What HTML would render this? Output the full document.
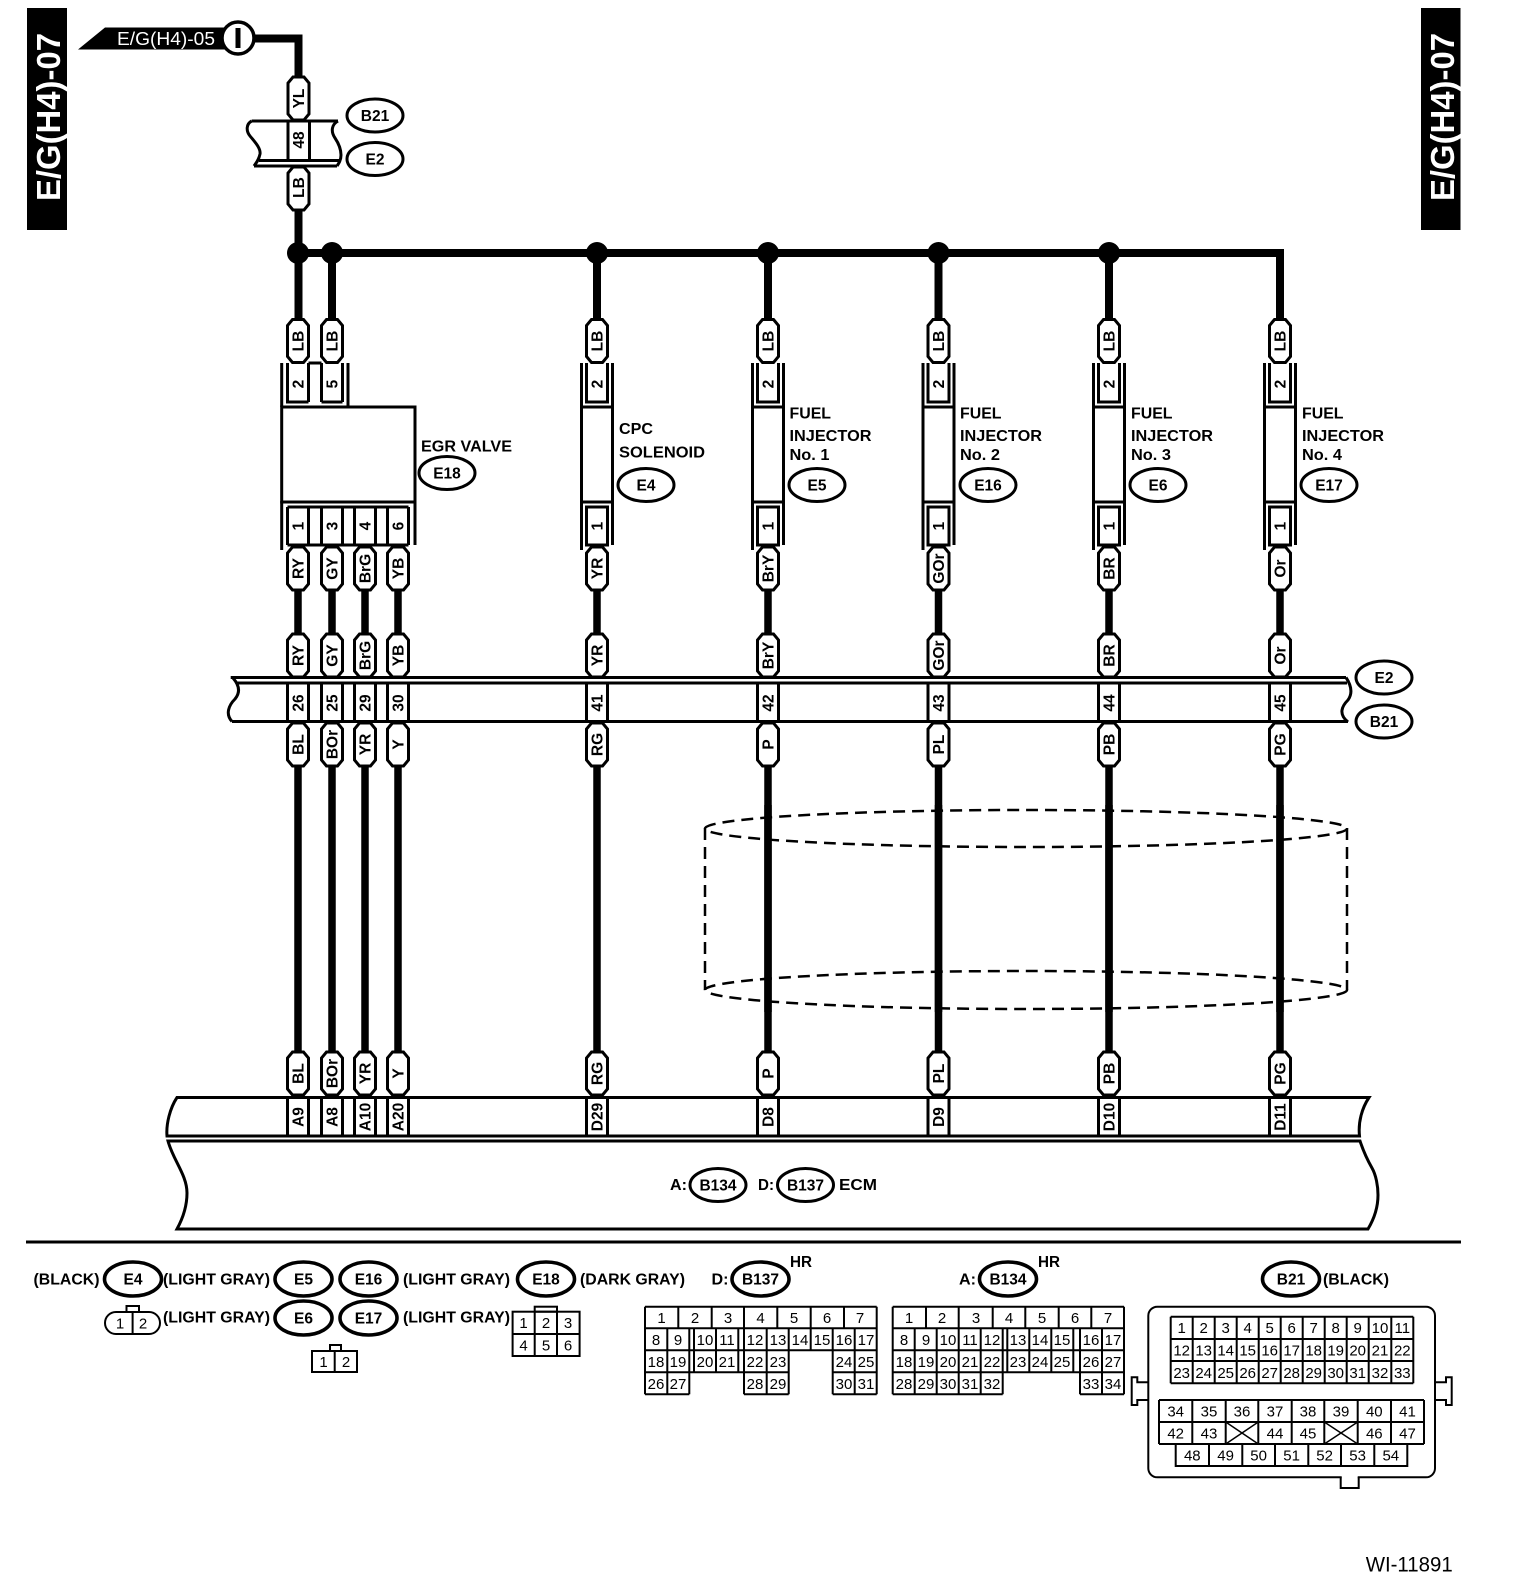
<!DOCTYPE html>
<html><head><meta charset="utf-8"><style>
html,body{margin:0;padding:0;background:#fff}
svg{display:block}
text{font-family:"Liberation Sans",sans-serif;fill:#000}
.b{font-weight:700;font-size:15.5px}
.m{text-anchor:middle}
.n{font-size:15px;text-anchor:middle}
.r{font-weight:700;font-size:15.5px;text-anchor:middle}
.w{fill:#fff}
.s{fill:#fff;stroke:#000;stroke-width:3}
.l{fill:none;stroke:#000;stroke-width:3}
.t{fill:none;stroke:#000;stroke-width:2}
</style></head><body>
<svg xmlns="http://www.w3.org/2000/svg" width="1520" height="1590" viewBox="0 0 1520 1590">
<defs>
<path id="p" class="s" d="M-5.500 0H5.500L10.500 6V37L5.500 43H-5.500L-10.500 37V6Z"/>
<ellipse id="e" class="s" rx="28" ry="16.5"/>
<ellipse id="f" class="s" rx="28.5" ry="17" style="stroke-width:3.6"/>
<g id="c"><path class="l" d="M-15.500 363V407M15.500 363V407M-10.500 363V402H10.500V363"/><rect class="l" x="-15.500" y="407" width="31" height="95"/><path class="l" d="M-15.500 501V550M15.500 501V545"/><rect class="l" x="-10.500" y="507" width="21" height="38"/></g>
</defs>

<rect x="27" y="8" width="40" height="222"/>
<text class="w" transform="translate(60,201) rotate(-90)" font-size="33" font-weight="700" textLength="168" lengthAdjust="spacingAndGlyphs">E/G(H4)-07</text>
<rect x="1421" y="8" width="39.500" height="222"/>
<text class="w" transform="translate(1454,201) rotate(-90)" font-size="33" font-weight="700" textLength="168" lengthAdjust="spacingAndGlyphs">E/G(H4)-07</text>

<path d="M78 49.500L105 27.500H240V49.500Z"/>
<text class="w" x="117" y="45" font-size="18" textLength="98" lengthAdjust="spacingAndGlyphs">E/G(H4)-05</text>

<path fill="none" stroke="#000" stroke-width="8" d="M250 38.500H298.500V80M298.500 205V325M332 253V325M298 253H1280V325M597 253V325M768 253V325M938.500 253V325M1109 253V325"/>
<path fill="none" stroke="#000" stroke-width="7.500" d="M298 588V636M332 588V636M365 588V636M398 588V636M597 588V636M768 588V636M938.500 588V636M1109 588V636M1280 588V636M298 765V1054M332 765V1054M365 765V1054M398 765V1054M597 765V1054M768 765V1054M938.500 765V1054M1109 765V1054M1280 765V1054"/>
<circle cx="238" cy="38" r="16" fill="#fff" stroke="#000" stroke-width="3.500"/>
<rect x="235.500" y="28" width="5" height="20"/>
<circle cx="298" cy="253" r="11"/><circle cx="332" cy="253" r="11"/><circle cx="597" cy="253" r="11"/><circle cx="768" cy="253" r="11"/><circle cx="938.500" cy="253" r="11"/><circle cx="1109" cy="253" r="11"/>

<g fill="none" stroke="#000" stroke-width="2.500" stroke-dasharray="12 7">
<ellipse cx="1026" cy="828.500" rx="321" ry="18.500"/>
<ellipse cx="1026" cy="990" rx="321" ry="19"/>
<path d="M705 828V990M1347 828V990"/>
</g>
<path fill="none" stroke="#000" stroke-width="7.500" d="M768 805V1012M938.500 805V1012M1109 805V1012M1280 805V1012"/>

<!-- inline connector B21/E2 top -->
<path class="l" d="M251.700 121H338M259 160.500H340M254 166H337M251.700 121C246 124 246 131 250 136C254 141 261 148 260 154C259 159 257 162 254 166M338 121C331 125 331 132 335 138C339 144 341 150 341 155C341 160 339 163 337 166"/>
<path class="l" d="M288 120V160M309.500 120V160"/>
<g transform="translate(298.500 0)"><use href="#p" y="77"/><use href="#p" y="167"/>
<text class="r" transform="translate(5.500,98.500) rotate(-90)">YL</text>
<text class="r" transform="translate(5.500,140) rotate(-90)">48</text>
<text class="r" transform="translate(5.500,187.500) rotate(-90)">LB</text></g>
<use href="#e" x="375" y="115.500"/><text class="r" x="375" y="121">B21</text>
<use href="#e" x="375" y="159"/><text class="r" x="375" y="164.500">E2</text>

<!-- EGR valve body -->
<path class="l" d="M281.700 363V407M348 363V407M287.500 363V402H308.500M321.500 402H342.500M342.500 363V402M321.500 363V402M308.500 363V402M308.500 363H321.500"/>
<rect class="l" x="281.700" y="407" width="133.300" height="95"/>
<path class="l" d="M281.700 501V550M415 501V545M287.500 507H408.500M287.500 545H408.500M287.500 507V545M308.500 507V545M321.500 507V545M342.500 507V545M354.500 507V545M375.500 507V545M387.500 507V545M408.500 507V545"/>
<text class="b" x="421" y="451.500" textLength="91" lengthAdjust="spacingAndGlyphs">EGR VALVE</text>
<use href="#e" x="447" y="473"/><text class="r" x="447" y="478.500">E18</text>

<use href="#c" x="597"/><use href="#c" x="768"/><use href="#c" x="938.500"/><use href="#c" x="1109"/><use href="#c" x="1280"/>

<text class="b" x="619" y="434" textLength="34" lengthAdjust="spacingAndGlyphs">CPC</text>
<text class="b" x="619" y="457.500" textLength="86" lengthAdjust="spacingAndGlyphs">SOLENOID</text>
<use href="#e" x="646" y="485"/><text class="r" x="646" y="490.500">E4</text>

<text class="b" x="789.500" y="418.500" textLength="41.500" lengthAdjust="spacingAndGlyphs">FUEL</text>
<text class="b" x="789.500" y="441" textLength="82" lengthAdjust="spacingAndGlyphs">INJECTOR</text>
<text class="b" x="789.500" y="460" textLength="40" lengthAdjust="spacingAndGlyphs">No. 1</text>
<use href="#e" x="817" y="485"/><text class="r" x="817" y="490.500">E5</text>

<text class="b" x="960" y="418.500" textLength="41.500" lengthAdjust="spacingAndGlyphs">FUEL</text>
<text class="b" x="960" y="441" textLength="82" lengthAdjust="spacingAndGlyphs">INJECTOR</text>
<text class="b" x="960" y="460" textLength="40" lengthAdjust="spacingAndGlyphs">No. 2</text>
<use href="#e" x="988" y="485"/><text class="r" x="988" y="490.500">E16</text>

<text class="b" x="1131" y="418.500" textLength="41.500" lengthAdjust="spacingAndGlyphs">FUEL</text>
<text class="b" x="1131" y="441" textLength="82" lengthAdjust="spacingAndGlyphs">INJECTOR</text>
<text class="b" x="1131" y="460" textLength="40" lengthAdjust="spacingAndGlyphs">No. 3</text>
<use href="#e" x="1158" y="485"/><text class="r" x="1158" y="490.500">E6</text>

<text class="b" x="1302" y="418.500" textLength="41.500" lengthAdjust="spacingAndGlyphs">FUEL</text>
<text class="b" x="1302" y="441" textLength="82" lengthAdjust="spacingAndGlyphs">INJECTOR</text>
<text class="b" x="1302" y="460" textLength="40" lengthAdjust="spacingAndGlyphs">No. 4</text>
<use href="#e" x="1329" y="485"/><text class="r" x="1329" y="490.500">E17</text>

<!-- harness E2/B21 -->
<path class="l" d="M230.700 677.500H1346M237 683H1347M232 721.500H1348M233 678C240 686 240 693 235 699C229 705 225 714 232 721.500M1346 677.500C1351 685 1353 693 1348 700C1342 706 1338 714 1348 722"/>
<use href="#e" x="1384" y="677.500"/><text class="r" x="1384" y="683">E2</text>
<use href="#e" x="1384" y="721.500"/><text class="r" x="1384" y="727">B21</text>

<!-- ECM -->
<path class="l" d="M177 1097.500H1369C1362 1108 1358 1122 1359.500 1136H167C166 1124 170 1108 177 1097.500Z"/>
<path class="l" d="M168 1141H1360C1364 1153 1368 1161 1372 1168C1376 1175 1378 1186 1378 1195C1378 1208 1374 1219 1368 1229H177C183 1218 187 1206 187 1193C187 1175 173 1160 168 1141Z"/>
<text class="b" x="670" y="1190" textLength="17" lengthAdjust="spacingAndGlyphs">A:</text>
<use href="#e" x="718" y="1185"/><text class="r" x="718" y="1190.500">B134</text>
<text class="b" x="758" y="1190" textLength="16" lengthAdjust="spacingAndGlyphs">D:</text>
<use href="#e" x="805.500" y="1185"/><text class="r" x="805.500" y="1190.500">B137</text>
<text class="b" x="839" y="1190" textLength="38" lengthAdjust="spacingAndGlyphs">ECM</text>

<!-- columns -->
<g transform="translate(298 0)"><use href="#p" y="319.500"/><text class="r" transform="translate(5.500,341) rotate(-90)">LB</text><text class="r" transform="translate(5.500,384) rotate(-90)">2</text><text class="r" transform="translate(5.500,526) rotate(-90)">1</text><use href="#p" y="547"/><text class="r" transform="translate(5.500,568.500) rotate(-90)">RY</text><use href="#p" y="634"/><text class="r" transform="translate(5.500,655.500) rotate(-90)">RY</text><path class="l" d="M-10.500 684V722M10.500 684V722"/><text class="r" transform="translate(5.500,703) rotate(-90)">26</text><use href="#p" y="723"/><text class="r" transform="translate(5.500,744.500) rotate(-90)">BL</text><use href="#p" y="1052"/><text class="r" transform="translate(5.500,1073.500) rotate(-90)">BL</text><path class="l" d="M-10.500 1097V1136M10.500 1097V1136"/><text class="r" transform="translate(5.500,1117) rotate(-90)">A9</text></g>

<g transform="translate(332 0)"><use href="#p" y="319.500"/><text class="r" transform="translate(5.500,341) rotate(-90)">LB</text><text class="r" transform="translate(5.500,384) rotate(-90)">5</text><text class="r" transform="translate(5.500,526) rotate(-90)">3</text><use href="#p" y="547"/><text class="r" transform="translate(5.500,568.500) rotate(-90)">GY</text><use href="#p" y="634"/><text class="r" transform="translate(5.500,655.500) rotate(-90)">GY</text><path class="l" d="M-10.500 684V722M10.500 684V722"/><text class="r" transform="translate(5.500,703) rotate(-90)">25</text><use href="#p" y="723"/><text class="r" transform="translate(5.500,744.500) rotate(-90)">BOr</text><use href="#p" y="1052"/><text class="r" transform="translate(5.500,1073.500) rotate(-90)">BOr</text><path class="l" d="M-10.500 1097V1136M10.500 1097V1136"/><text class="r" transform="translate(5.500,1117) rotate(-90)">A8</text></g>

<g transform="translate(365 0)"><text class="r" transform="translate(5.500,526) rotate(-90)">4</text><use href="#p" y="547"/><text class="r" transform="translate(5.500,568.500) rotate(-90)">BrG</text><use href="#p" y="634"/><text class="r" transform="translate(5.500,655.500) rotate(-90)">BrG</text><path class="l" d="M-10.500 684V722M10.500 684V722"/><text class="r" transform="translate(5.500,703) rotate(-90)">29</text><use href="#p" y="723"/><text class="r" transform="translate(5.500,744.500) rotate(-90)">YR</text><use href="#p" y="1052"/><text class="r" transform="translate(5.500,1073.500) rotate(-90)">YR</text><path class="l" d="M-10.500 1097V1136M10.500 1097V1136"/><text class="r" transform="translate(5.500,1117) rotate(-90)">A10</text></g>

<g transform="translate(398 0)"><text class="r" transform="translate(5.500,526) rotate(-90)">6</text><use href="#p" y="547"/><text class="r" transform="translate(5.500,568.500) rotate(-90)">YB</text><use href="#p" y="634"/><text class="r" transform="translate(5.500,655.500) rotate(-90)">YB</text><path class="l" d="M-10.500 684V722M10.500 684V722"/><text class="r" transform="translate(5.500,703) rotate(-90)">30</text><use href="#p" y="723"/><text class="r" transform="translate(5.500,744.500) rotate(-90)">Y</text><use href="#p" y="1052"/><text class="r" transform="translate(5.500,1073.500) rotate(-90)">Y</text><path class="l" d="M-10.500 1097V1136M10.500 1097V1136"/><text class="r" transform="translate(5.500,1117) rotate(-90)">A20</text></g>

<g transform="translate(597 0)"><use href="#p" y="319.500"/><text class="r" transform="translate(5.500,341) rotate(-90)">LB</text><text class="r" transform="translate(5.500,384) rotate(-90)">2</text><text class="r" transform="translate(5.500,526) rotate(-90)">1</text><use href="#p" y="547"/><text class="r" transform="translate(5.500,568.500) rotate(-90)">YR</text><use href="#p" y="634"/><text class="r" transform="translate(5.500,655.500) rotate(-90)">YR</text><path class="l" d="M-10.500 684V722M10.500 684V722"/><text class="r" transform="translate(5.500,703) rotate(-90)">41</text><use href="#p" y="723"/><text class="r" transform="translate(5.500,744.500) rotate(-90)">RG</text><use href="#p" y="1052"/><text class="r" transform="translate(5.500,1073.500) rotate(-90)">RG</text><path class="l" d="M-10.500 1097V1136M10.500 1097V1136"/><text class="r" transform="translate(5.500,1117) rotate(-90)">D29</text></g>

<g transform="translate(768 0)"><use href="#p" y="319.500"/><text class="r" transform="translate(5.500,341) rotate(-90)">LB</text><text class="r" transform="translate(5.500,384) rotate(-90)">2</text><text class="r" transform="translate(5.500,526) rotate(-90)">1</text><use href="#p" y="547"/><text class="r" transform="translate(5.500,568.500) rotate(-90)">BrY</text><use href="#p" y="634"/><text class="r" transform="translate(5.500,655.500) rotate(-90)">BrY</text><path class="l" d="M-10.500 684V722M10.500 684V722"/><text class="r" transform="translate(5.500,703) rotate(-90)">42</text><use href="#p" y="723"/><text class="r" transform="translate(5.500,744.500) rotate(-90)">P</text><use href="#p" y="1052"/><text class="r" transform="translate(5.500,1073.500) rotate(-90)">P</text><path class="l" d="M-10.500 1097V1136M10.500 1097V1136"/><text class="r" transform="translate(5.500,1117) rotate(-90)">D8</text></g>

<g transform="translate(938.500 0)"><use href="#p" y="319.500"/><text class="r" transform="translate(5.500,341) rotate(-90)">LB</text><text class="r" transform="translate(5.500,384) rotate(-90)">2</text><text class="r" transform="translate(5.500,526) rotate(-90)">1</text><use href="#p" y="547"/><text class="r" transform="translate(5.500,568.500) rotate(-90)">GOr</text><use href="#p" y="634"/><text class="r" transform="translate(5.500,655.500) rotate(-90)">GOr</text><path class="l" d="M-10.500 684V722M10.500 684V722"/><text class="r" transform="translate(5.500,703) rotate(-90)">43</text><use href="#p" y="723"/><text class="r" transform="translate(5.500,744.500) rotate(-90)">PL</text><use href="#p" y="1052"/><text class="r" transform="translate(5.500,1073.500) rotate(-90)">PL</text><path class="l" d="M-10.500 1097V1136M10.500 1097V1136"/><text class="r" transform="translate(5.500,1117) rotate(-90)">D9</text></g>

<g transform="translate(1109 0)"><use href="#p" y="319.500"/><text class="r" transform="translate(5.500,341) rotate(-90)">LB</text><text class="r" transform="translate(5.500,384) rotate(-90)">2</text><text class="r" transform="translate(5.500,526) rotate(-90)">1</text><use href="#p" y="547"/><text class="r" transform="translate(5.500,568.500) rotate(-90)">BR</text><use href="#p" y="634"/><text class="r" transform="translate(5.500,655.500) rotate(-90)">BR</text><path class="l" d="M-10.500 684V722M10.500 684V722"/><text class="r" transform="translate(5.500,703) rotate(-90)">44</text><use href="#p" y="723"/><text class="r" transform="translate(5.500,744.500) rotate(-90)">PB</text><use href="#p" y="1052"/><text class="r" transform="translate(5.500,1073.500) rotate(-90)">PB</text><path class="l" d="M-10.500 1097V1136M10.500 1097V1136"/><text class="r" transform="translate(5.500,1117) rotate(-90)">D10</text></g>

<g transform="translate(1280 0)"><use href="#p" y="319.500"/><text class="r" transform="translate(5.500,341) rotate(-90)">LB</text><text class="r" transform="translate(5.500,384) rotate(-90)">2</text><text class="r" transform="translate(5.500,526) rotate(-90)">1</text><use href="#p" y="547"/><text class="r" transform="translate(5.500,568.500) rotate(-90)">Or</text><use href="#p" y="634"/><text class="r" transform="translate(5.500,655.500) rotate(-90)">Or</text><path class="l" d="M-10.500 684V722M10.500 684V722"/><text class="r" transform="translate(5.500,703) rotate(-90)">45</text><use href="#p" y="723"/><text class="r" transform="translate(5.500,744.500) rotate(-90)">PG</text><use href="#p" y="1052"/><text class="r" transform="translate(5.500,1073.500) rotate(-90)">PG</text><path class="l" d="M-10.500 1097V1136M10.500 1097V1136"/><text class="r" transform="translate(5.500,1117) rotate(-90)">D11</text></g>

<!-- separator -->
<rect x="26" y="1240.500" width="1435" height="3"/>

<!-- legend -->
<text class="b" x="33.500" y="1284.500" textLength="66" lengthAdjust="spacingAndGlyphs">(BLACK)</text>
<use href="#f" x="133" y="1279"/><text class="r" x="133" y="1284.500">E4</text>
<text class="b" x="163" y="1284.500" textLength="107" lengthAdjust="spacingAndGlyphs">(LIGHT GRAY)</text>
<use href="#f" x="303.500" y="1279"/><text class="r" x="303.500" y="1284.500">E5</text>
<use href="#f" x="368.500" y="1279"/><text class="r" x="368.500" y="1284.500">E16</text>
<text class="b" x="403" y="1284.500" textLength="107" lengthAdjust="spacingAndGlyphs">(LIGHT GRAY)</text>
<use href="#f" x="546" y="1279"/><text class="r" x="546" y="1284.500">E18</text>
<text class="b" x="580" y="1284.500" textLength="105" lengthAdjust="spacingAndGlyphs">(DARK GRAY)</text>
<text class="b" x="711.500" y="1284.500" textLength="17" lengthAdjust="spacingAndGlyphs">D:</text>
<use href="#f" x="760.500" y="1279"/><text class="r" x="760.500" y="1284.500">B137</text>
<text class="b" x="790" y="1267" textLength="22" lengthAdjust="spacingAndGlyphs">HR</text>
<text class="b" x="959" y="1284.500" textLength="17" lengthAdjust="spacingAndGlyphs">A:</text>
<use href="#f" x="1008" y="1279"/><text class="r" x="1008" y="1284.500">B134</text>
<text class="b" x="1038" y="1267" textLength="22" lengthAdjust="spacingAndGlyphs">HR</text>
<use href="#f" x="1291" y="1279"/><text class="r" x="1291" y="1284.500">B21</text>
<text class="b" x="1323" y="1284.500" textLength="66" lengthAdjust="spacingAndGlyphs">(BLACK)</text>

<rect class="t" x="126.500" y="1306" width="12.500" height="6"/>
<rect class="t" x="105" y="1312" width="55" height="22" rx="11" ry="11"/>
<path class="t" d="M132.600 1312V1334"/>
<text class="n" x="120" y="1328.500">1</text><text class="n" x="143" y="1328.500">2</text>
<text class="b" x="163" y="1322.500" textLength="107" lengthAdjust="spacingAndGlyphs">(LIGHT GRAY)</text>
<use href="#f" x="303.500" y="1318"/><text class="r" x="303.500" y="1323.500">E6</text>
<use href="#f" x="368.500" y="1318"/><text class="r" x="368.500" y="1323.500">E17</text>
<text class="b" x="403" y="1322.500" textLength="107" lengthAdjust="spacingAndGlyphs">(LIGHT GRAY)</text>

<rect class="t" x="330" y="1345" width="11" height="6"/>
<rect class="t" x="312" y="1351" width="45" height="21"/>
<path class="t" d="M334.700 1351V1372"/>
<text class="n" x="323.500" y="1367">1</text><text class="n" x="346" y="1367">2</text>

<rect class="t" x="534.700" y="1306.700" width="22.300" height="5"/>
<rect class="t" x="512.600" y="1311.700" width="67" height="44.300"/>
<path class="t" d="M534.700 1311.700V1356M557 1311.700V1356M512.600 1334H579.600"/>
<text class="n" x="523.500" y="1328">1</text><text class="n" x="546" y="1328">2</text><text class="n" x="568" y="1328">3</text>
<text class="n" x="523.500" y="1350.500">4</text><text class="n" x="546" y="1350.500">5</text><text class="n" x="568" y="1350.500">6</text>

<!-- D block -->
<path class="t" d="M645 1306.700H876.700M645 1328.300H876.700M645 1350.300H876.700M645 1372.300H788.700M832.700 1372.300H876.700M645 1394.300H689.300M744 1394.300H788.700M832.700 1394.300H876.700M645 1306.700V1394.300M876.700 1306.700V1394.300M678.300 1306.700V1328.300M711.700 1306.700V1328.300M744 1306.700V1394.300M777.300 1306.700V1328.300M810.700 1306.700V1350.300M844 1306.700V1328.300M667.300 1328.300V1394.300M689.300 1328.300V1394.300M694 1328.300V1372.300M716 1328.300V1372.300M738.300 1328.300V1372.300M766.700 1328.300V1394.300M788.700 1328.300V1394.300M832.700 1328.300V1394.300M854.700 1328.300V1394.300"/>
<text class="n" x="661.500" y="1323">1</text><text class="n" x="695" y="1323">2</text><text class="n" x="728" y="1323">3</text><text class="n" x="760.500" y="1323">4</text><text class="n" x="794" y="1323">5</text><text class="n" x="827" y="1323">6</text><text class="n" x="860" y="1323">7</text>
<text class="n" x="656" y="1345">8</text><text class="n" x="678" y="1345">9</text><text class="n" x="705" y="1345">10</text><text class="n" x="727" y="1345">11</text><text class="n" x="755" y="1345">12</text><text class="n" x="778" y="1345">13</text><text class="n" x="800" y="1345">14</text><text class="n" x="822" y="1345">15</text><text class="n" x="844" y="1345">16</text><text class="n" x="866" y="1345">17</text>
<text class="n" x="656" y="1367">18</text><text class="n" x="678" y="1367">19</text><text class="n" x="705" y="1367">20</text><text class="n" x="727" y="1367">21</text><text class="n" x="755" y="1367">22</text><text class="n" x="778" y="1367">23</text><text class="n" x="844" y="1367">24</text><text class="n" x="866" y="1367">25</text>
<text class="n" x="656" y="1389">26</text><text class="n" x="678" y="1389">27</text><text class="n" x="755" y="1389">28</text><text class="n" x="778" y="1389">29</text><text class="n" x="844" y="1389">30</text><text class="n" x="866" y="1389">31</text>

<!-- A block -->
<path class="t" d="M892.700 1306.700H1124M892.700 1328.300H1124M892.700 1350.300H1124M892.700 1372.300H1124M892.700 1394.300H1002.700M1080 1394.300H1124M892.700 1306.700V1394.300M1124 1306.700V1394.300M926 1306.700V1328.300M958.700 1306.700V1394.300M992.700 1306.700V1328.300M1025.300 1306.700V1328.300M1058.700 1306.700V1328.300M1091.300 1306.700V1328.300M914.700 1328.300V1394.300M936.700 1328.300V1394.300M980.700 1328.300V1394.300M1002.700 1328.300V1394.300M1007.300 1328.300V1372.300M1029.300 1328.300V1372.300M1051.300 1328.300V1372.300M1073.300 1328.300V1372.300M1080 1328.300V1394.300M1102 1328.300V1394.300"/>
<text class="n" x="909" y="1323">1</text><text class="n" x="942" y="1323">2</text><text class="n" x="976" y="1323">3</text><text class="n" x="1009" y="1323">4</text><text class="n" x="1042" y="1323">5</text><text class="n" x="1075" y="1323">6</text><text class="n" x="1108" y="1323">7</text>
<text class="n" x="904" y="1345">8</text><text class="n" x="926" y="1345">9</text><text class="n" x="948" y="1345">10</text><text class="n" x="970" y="1345">11</text><text class="n" x="992" y="1345">12</text><text class="n" x="1018" y="1345">13</text><text class="n" x="1040" y="1345">14</text><text class="n" x="1062" y="1345">15</text><text class="n" x="1091" y="1345">16</text><text class="n" x="1113" y="1345">17</text>
<text class="n" x="904" y="1367">18</text><text class="n" x="926" y="1367">19</text><text class="n" x="948" y="1367">20</text><text class="n" x="970" y="1367">21</text><text class="n" x="992" y="1367">22</text><text class="n" x="1018" y="1367">23</text><text class="n" x="1040" y="1367">24</text><text class="n" x="1062" y="1367">25</text><text class="n" x="1091" y="1367">26</text><text class="n" x="1113" y="1367">27</text>
<text class="n" x="904" y="1389">28</text><text class="n" x="926" y="1389">29</text><text class="n" x="948" y="1389">30</text><text class="n" x="970" y="1389">31</text><text class="n" x="992" y="1389">32</text><text class="n" x="1091" y="1389">33</text><text class="n" x="1113" y="1389">34</text>

<!-- B21 block -->
<rect class="t" x="1148.300" y="1306.700" width="286.700" height="170.600" rx="9" ry="9"/>
<path d="M1341.700 1477.300H1357.700" stroke="#fff" stroke-width="3" fill="none"/>
<path class="t" d="M1148.300 1382.300H1137.300V1377.300H1131.700V1405H1137.300V1400H1148.300M1435 1382.300H1446V1377.300H1451.700V1405H1446V1400H1435M1340.700 1477.300V1488H1358.700V1477.300"/>
<path class="t" d="M1170.700 1316.700H1413.300M1170.700 1339H1413.300M1170.700 1361H1413.300M1170.700 1383.300H1413.300M1170.700 1316.700V1383.300M1192.700 1316.700V1383.300M1214.700 1316.700V1383.300M1236.700 1316.700V1383.300M1258.700 1316.700V1383.300M1280.700 1316.700V1383.300M1302.700 1316.700V1383.300M1324.700 1316.700V1383.300M1346.700 1316.700V1383.300M1368.700 1316.700V1383.300M1391.300 1316.700V1383.300M1413.300 1316.700V1383.300"/>
<text class="n" x="1181.700" y="1333">1</text><text class="n" x="1203.700" y="1333">2</text><text class="n" x="1225.700" y="1333">3</text><text class="n" x="1247.700" y="1333">4</text><text class="n" x="1269.700" y="1333">5</text><text class="n" x="1291.700" y="1333">6</text><text class="n" x="1313.700" y="1333">7</text><text class="n" x="1335.700" y="1333">8</text><text class="n" x="1357.700" y="1333">9</text><text class="n" x="1380" y="1333">10</text><text class="n" x="1402.300" y="1333">11</text>
<text class="n" x="1181.700" y="1355.500">12</text><text class="n" x="1203.700" y="1355.500">13</text><text class="n" x="1225.700" y="1355.500">14</text><text class="n" x="1247.700" y="1355.500">15</text><text class="n" x="1269.700" y="1355.500">16</text><text class="n" x="1291.700" y="1355.500">17</text><text class="n" x="1313.700" y="1355.500">18</text><text class="n" x="1335.700" y="1355.500">19</text><text class="n" x="1357.700" y="1355.500">20</text><text class="n" x="1380" y="1355.500">21</text><text class="n" x="1402.300" y="1355.500">22</text>
<text class="n" x="1181.700" y="1378">23</text><text class="n" x="1203.700" y="1378">24</text><text class="n" x="1225.700" y="1378">25</text><text class="n" x="1247.700" y="1378">26</text><text class="n" x="1269.700" y="1378">27</text><text class="n" x="1291.700" y="1378">28</text><text class="n" x="1313.700" y="1378">29</text><text class="n" x="1335.700" y="1378">30</text><text class="n" x="1357.700" y="1378">31</text><text class="n" x="1380" y="1378">32</text><text class="n" x="1402.300" y="1378">33</text>

<path class="t" d="M1159 1400H1424M1159 1422H1424M1159 1444H1424M1159 1400V1444M1192.300 1400V1444M1225.700 1400V1444M1258.300 1400V1444M1291.700 1400V1444M1324.300 1400V1444M1357.700 1400V1444M1391 1400V1444M1424 1400V1444M1175.700 1444V1466H1407.300V1444M1209 1444V1466M1242.300 1444V1466M1275 1444V1466M1308.300 1444V1466M1341 1444V1466M1374.300 1444V1466"/>
<path d="M1225.700 1422L1258.300 1444M1258.300 1422L1225.700 1444M1324.300 1422L1357.700 1444M1357.700 1422L1324.300 1444" stroke="#000" stroke-width="1.500" fill="none"/>
<text class="n" x="1175.700" y="1416.500">34</text><text class="n" x="1209" y="1416.500">35</text><text class="n" x="1242" y="1416.500">36</text><text class="n" x="1275" y="1416.500">37</text><text class="n" x="1308" y="1416.500">38</text><text class="n" x="1341" y="1416.500">39</text><text class="n" x="1374.300" y="1416.500">40</text><text class="n" x="1407.500" y="1416.500">41</text>
<text class="n" x="1175.700" y="1438.500">42</text><text class="n" x="1209" y="1438.500">43</text><text class="n" x="1275" y="1438.500">44</text><text class="n" x="1308" y="1438.500">45</text><text class="n" x="1374.300" y="1438.500">46</text><text class="n" x="1407.500" y="1438.500">47</text>
<text class="n" x="1192.300" y="1460.500">48</text><text class="n" x="1225.600" y="1460.500">49</text><text class="n" x="1258.600" y="1460.500">50</text><text class="n" x="1291.600" y="1460.500">51</text><text class="n" x="1324.600" y="1460.500">52</text><text class="n" x="1357.600" y="1460.500">53</text><text class="n" x="1390.800" y="1460.500">54</text>

<text x="1365.700" y="1571.500" font-size="21" textLength="87" lengthAdjust="spacingAndGlyphs">WI-11891</text>
</svg>
</body></html>
